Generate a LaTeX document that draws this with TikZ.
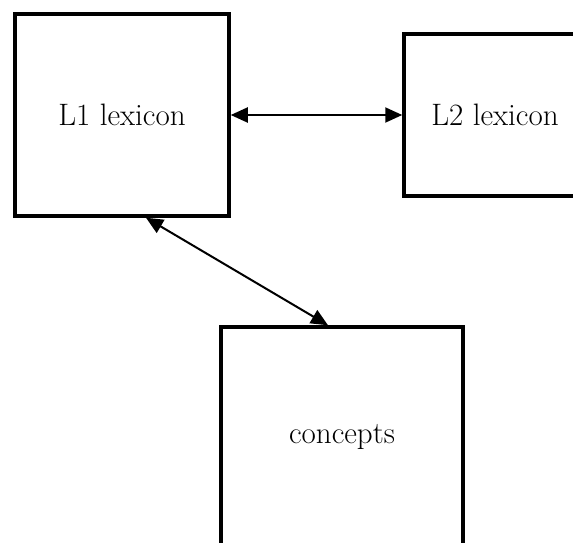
\documentclass[tikz,border=0pt]{standalone}
\usepackage{fontspec}
\usetikzlibrary{arrows.meta}
\begin{document}
\begin{tikzpicture}[
    x=1pt, y=1pt,
    box/.style={rectangle, draw, line width=3.5pt, align=center, font=\fontsize{31}{36}\selectfont},
    arrow/.style={{Triangle[length=17pt,width=15pt]}-{Triangle[length=17pt,width=15pt]}, line width=2pt}
]
\useasboundingbox (0,0) rectangle (573,-542);

% Lexicons
\node[box, minimum width=214pt, minimum height=202pt] (l1) at (122,-115) {L1 lexicon};
\node[box, minimum width=182pt, minimum height=162pt] (l2) at (495,-115) {L2 lexicon};

% Conceptual store
\node[box, minimum width=242pt, minimum height=220pt] (concepts) at (342,-437) {concepts};

% Links
\draw[arrow] (l1.east) -- (l2.west);
\draw[arrow] ([xshift=24pt]l1.south) -- ([xshift=-14pt]concepts.north);

\end{tikzpicture}
\end{document}
